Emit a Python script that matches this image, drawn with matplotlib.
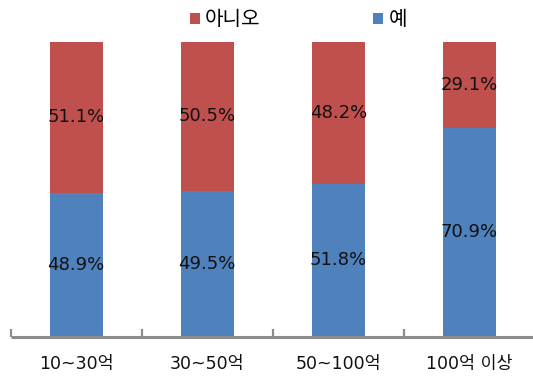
import matplotlib
matplotlib.use("Agg")
import matplotlib.pyplot as plt
from matplotlib.patches import Patch
import numpy as np

plt.rcParams['font.family'] = ['DejaVu Sans', 'Noto Sans CJK KR']

categories = ["10~30억", "30~50억", "50~100억", "100억 이상"]
yes_pct = [48.9, 49.5, 51.8, 70.9]
no_pct = [51.1, 50.5, 48.2, 29.1]
series_names = ["예", "아니오"]

blue = "#4F81BD"
red = "#C0504D"
axis_grey = "#8C8C8C"

fig = plt.figure(figsize=(5.33, 3.76), dpi=100)
ax = fig.add_axes([0.0197, 0.105, 0.984, 0.783])

x = np.arange(len(categories))
width = 0.404
ax.bar(x, yes_pct, width, color=blue, edgecolor="none")
ax.bar(x, no_pct, width, bottom=yes_pct, color=red, edgecolor="none")

for xi, y, n in zip(x, yes_pct, no_pct):
    ax.text(xi, y / 2, f"{y}%", ha="center", va="center", fontsize=13, color="#111111")
    ax.text(xi, y + n / 2, f"{n}%", ha="center", va="center", fontsize=13, color="#111111")

ax.set_xlim(-0.5, len(categories) - 0.5)
ax.set_ylim(0, 100)
for s in ["top", "right", "left"]:
    ax.spines[s].set_visible(False)
ax.spines["bottom"].set_color(axis_grey)
ax.spines["bottom"].set_linewidth(2.2)
ax.spines["bottom"].set_capstyle("butt")
ax.set_yticks([])

# category labels centred, tick marks on the category boundaries
ax.set_xticks(x)
ax.set_xticklabels(categories, fontsize=12.5, color="#111111")
ax.tick_params(axis="x", which="major", length=0, pad=13.5)
ax.set_xticks(np.arange(len(categories) + 1) - 0.5, minor=True)
ax.tick_params(axis="x", which="minor", direction="in", length=5.5, width=1.6, color=axis_grey)

handles = [Patch(facecolor=red, label=series_names[1]),
           Patch(facecolor=blue, label=series_names[0])]
fig.legend(handles=handles, loc="center left", bbox_to_anchor=(190 / 533, 0.947), ncol=2,
           frameon=False, fontsize=14.5, handlelength=0.5, handleheight=0.5,
           handletextpad=0.25, columnspacing=5.6, borderpad=0, borderaxespad=0)

fig.savefig("out.png", dpi=100)
